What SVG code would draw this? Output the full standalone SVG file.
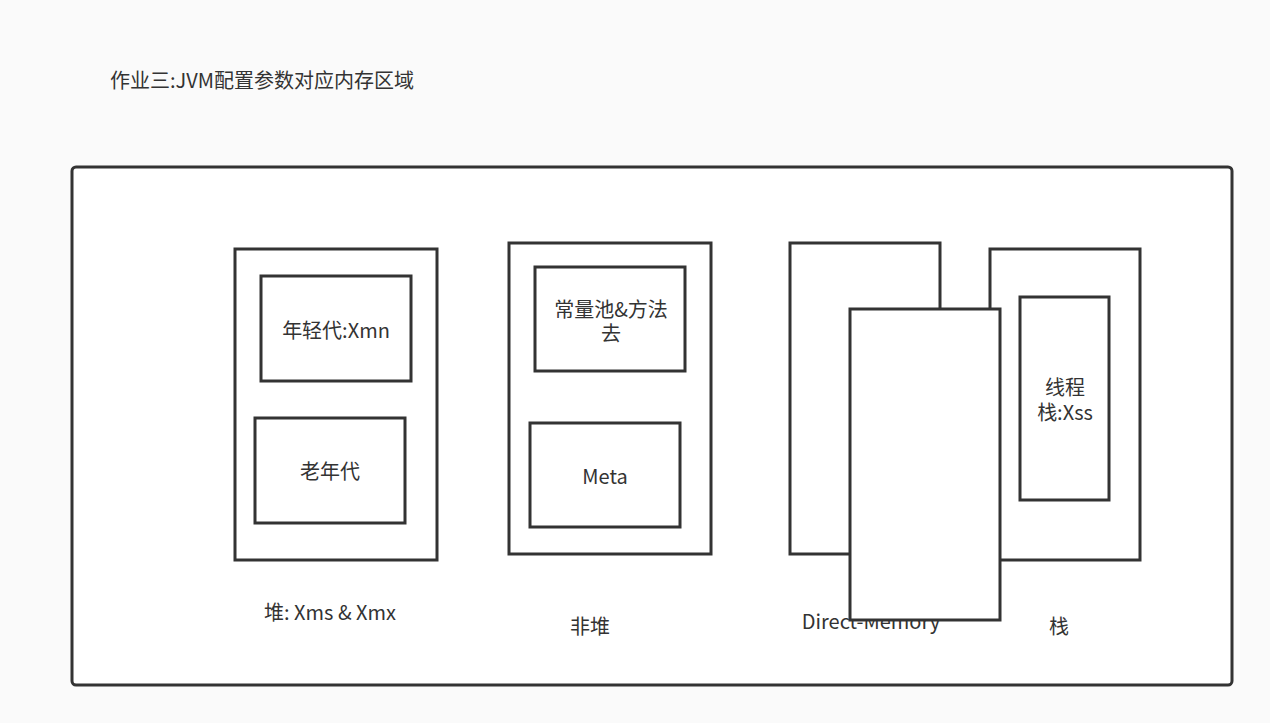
<svg xmlns="http://www.w3.org/2000/svg" width="1270" height="723" viewBox="0 0 1270 723">
<style>
.b{fill:#ffffff;stroke:#333333;stroke-width:3}
.t{font-family:"Noto Sans CJK SC","Liberation Sans",sans-serif;font-size:20px;fill:#333333;text-anchor:middle}
</style>
<rect x="0" y="0" width="1270" height="723" fill="#fafafa"/>
<text x="110" y="88" class="t" style="text-anchor:start">作业三:JVM配置参数对应内存区域</text>
<g id="container"><rect class="b" x="72" y="167" width="1160" height="518" rx="4"/></g>
<g id="heap">
<rect class="b" x="235" y="249" width="202" height="311"/>
<text class="t" x="330" y="620">堆: Xms &amp; Xmx</text>
</g>
<g id="young"><rect class="b" x="261" y="276" width="150" height="105"/><text class="t" x="336" y="338">年轻代:Xmn</text></g>
<g id="old"><rect class="b" x="255" y="418" width="150" height="105"/><text class="t" x="330" y="479">老年代</text></g>
<g id="nonheap">
<rect class="b" x="509" y="243" width="202" height="311"/>
<text class="t" x="590" y="634">非堆</text>
</g>
<g id="constpool"><rect class="b" x="535" y="267" width="150" height="104"/><text class="t" x="611" y="317">常量池&amp;方法<tspan x="611" dy="24">去</tspan></text></g>
<g id="meta"><rect class="b" x="530" y="423" width="150" height="104"/><text class="t" x="605" y="484">Meta</text></g>
<g id="direct">
<rect class="b" x="790" y="243" width="150" height="311"/>
<text class="t" x="871" y="629">Direct-Memory</text>
</g>
<g id="stack">
<rect class="b" x="990" y="249" width="150" height="311"/>
<text class="t" x="1059" y="634">栈</text>
</g>
<g id="threadstack"><rect class="b" x="1020" y="297" width="89" height="203"/><text class="t" x="1065" y="395">线程<tspan x="1065" dy="25">栈:Xss</tspan></text></g>
<g id="front"><rect class="b" x="850" y="309" width="150" height="311"/></g>
<g id="connectors"></g>
</svg>
